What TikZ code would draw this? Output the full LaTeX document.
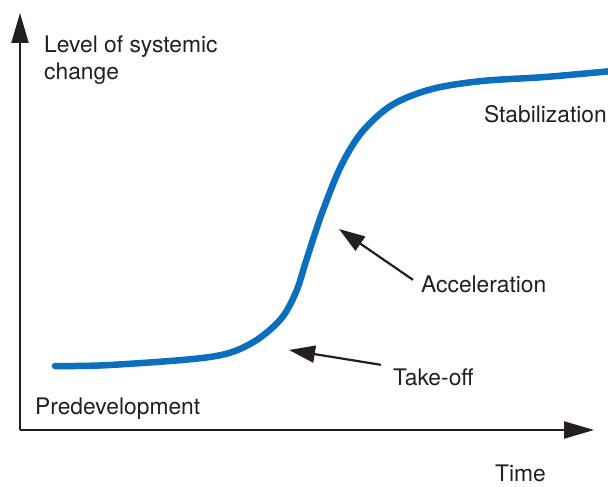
\documentclass[tikz,border=0pt]{standalone}
\usepackage{fontspec}
\setmainfont{TeX Gyre Heros}
\usetikzlibrary{arrows.meta}
\definecolor{ink}{HTML}{231F20}
\definecolor{curveblue}{HTML}{0B6FBE}
\tikzset{
  axis/.style={draw=ink, line width=2.2pt, -{Triangle[length=30pt,width=17pt]}},
  pointer/.style={draw=ink, line width=2.2pt, -{Triangle[length=26pt,width=17pt]}},
  lbl/.style={text=ink, font=\fontsize{22.8}{28}\selectfont, inner sep=0pt},
}
\begin{document}
\begin{tikzpicture}[x=1pt,y=-1pt]
\useasboundingbox (0,0) rectangle (608,487);
\clip (0,0) rectangle (608,487);
\coordinate (origin) at (20,430);
\coordinate (ytop) at (20,13);
\coordinate (xend) at (594,430);
\draw[axis] (origin) -- (ytop);
\draw[axis] (origin) -- (xend);
\draw[curveblue, line width=6.5pt, line cap=round]
  plot[smooth, tension=0.55] coordinates {(55,366) (110,365) (210,357) (250,344) (280,320) (296,292) (307,258) (322,213) (341,166) (362,132) (392,105) (432,89) (482,81) (545,77) (612,71)};
\node[lbl, anchor=base west, align=left] (ylab) at (44,80) {Level of systemic\\change};
\node[lbl, anchor=base west] (pre) at (35,414) {Predevelopment};
\node[lbl, anchor=base east] (stab) at (607,122) {Stabilization};
\node[lbl, anchor=base west] (acc) at (421,292) {Acceleration};
\node[lbl, anchor=base west] (take) at (393,385) {Take-off};
\node[lbl, anchor=base west] (time) at (495,481) {Time};
\coordinate (acctip) at (339,229);
\coordinate (taketip) at (289,350);
\draw[pointer] (acc.west) ++(-8,-4) -- (acctip);
\draw[pointer] (take.west) ++(-12,-12) -- (taketip);
\end{tikzpicture}
\end{document}
